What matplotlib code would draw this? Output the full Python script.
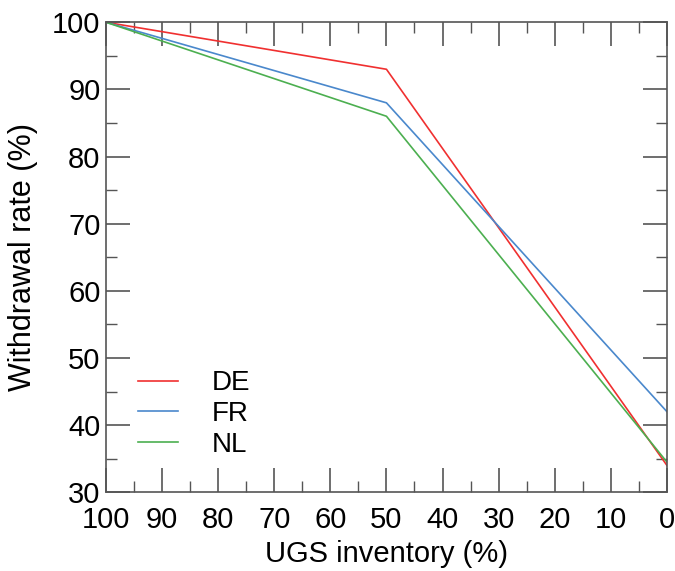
import matplotlib
matplotlib.use("Agg")
import matplotlib.pyplot as plt
from matplotlib.ticker import MultipleLocator

plt.rcParams['font.family'] = ['Liberation Sans', 'DejaVu Sans']

inventory = [100, 50, 0]
de_rate = [100, 93, 34]
fr_rate = [100, 88, 42]
nl_rate = [100, 86, 34.5]

fig = plt.figure(figsize=(6.75, 5.71), dpi=100)
ax = fig.add_axes([0.157, 0.138, 0.831, 0.823])

ax.plot(inventory, de_rate, color="#f03030", lw=1.2, label="DE")
ax.plot(inventory, fr_rate, color="#4a88cc", lw=1.2, label="FR")
ax.plot(inventory, nl_rate, color="#4caf50", lw=1.2, label="NL")

ax.set_xlim(100, 0)
ax.set_ylim(30, 100)
ax.xaxis.set_major_locator(MultipleLocator(10))
ax.xaxis.set_minor_locator(MultipleLocator(5))
ax.yaxis.set_major_locator(MultipleLocator(10))
ax.yaxis.set_minor_locator(MultipleLocator(5))

ax.tick_params(which="both", direction="in", top=True, right=True,
               color="#555555", labelsize=21)
ax.tick_params(which="major", length=17, width=1.2, pad=4)
ax.tick_params(which="minor", length=8, width=1.0)
ax.tick_params(axis="x", which="major", pad=10)
for s in ax.spines.values():
    s.set_color("#555555")
    s.set_linewidth(1.2)

ax.set_xlabel("UGS inventory (%)", fontsize=21, labelpad=4)
ax.set_ylabel("Withdrawal rate (%)", fontsize=22, labelpad=10)

ax.legend(loc="lower left", bbox_to_anchor=(0.012, 0.02), frameon=False,
          fontsize=20, handlelength=1.45, handletextpad=1.2, labelspacing=0.17)

fig.savefig("out.png", dpi=100)
